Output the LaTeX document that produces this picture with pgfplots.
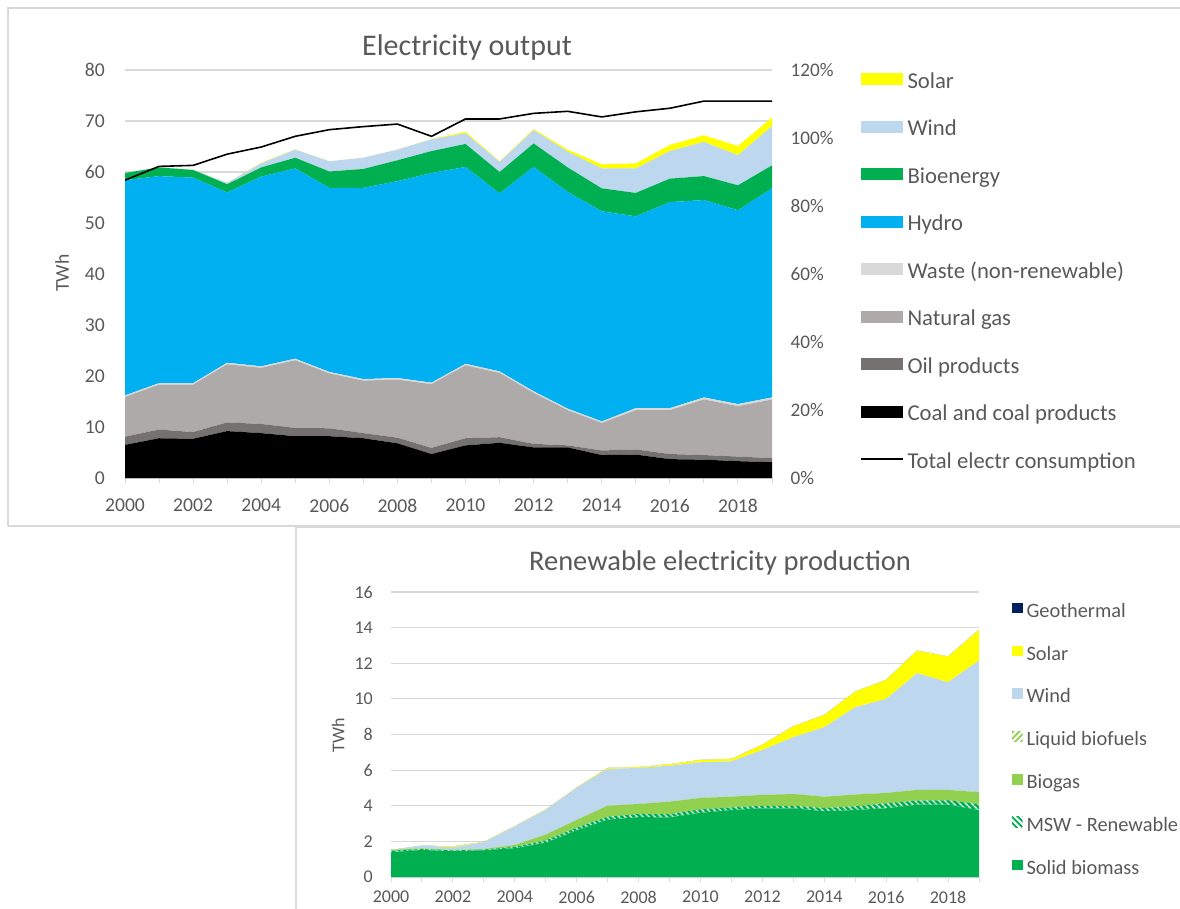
\documentclass[border=0pt]{standalone}
\usepackage{pgfplots}
\pgfplotsset{compat=1.18}
\usepackage{pgfplotstable}
\usepackage{fontspec}
\setmainfont{Carlito}
\usetikzlibrary{patterns.meta}
\definecolor{txt}{HTML}{595959}
\definecolor{gridc}{HTML}{D9D9D9}
\definecolor{solar}{HTML}{FFFF00}
\definecolor{wind}{HTML}{BDD7EE}
\definecolor{bio}{HTML}{00B050}
\definecolor{hydro}{HTML}{00B0F0}
\definecolor{waste}{HTML}{D9D9D9}
\definecolor{gas}{HTML}{AEAAAA}
\definecolor{oil}{HTML}{767171}
\definecolor{geo}{HTML}{002060}
\definecolor{biogas}{HTML}{92D050}

\pgfplotstableread{
year coal oil gas waste hydro bio wind solar total
2000 6.5 1.6 7.8 0.3 42.2 1.4 0.0 0.0 58.4
2001 7.8 1.7 8.8 0.3 40.6 1.7 0.0 0.0 61.1
2002 7.7 1.3 9.3 0.3 40.3 1.5 0.05 0.0 61.3
2003 9.2 1.7 11.4 0.3 33.4 1.6 0.3 0.0 63.5
2004 8.8 1.8 11.0 0.3 37.2 1.8 0.8 0.1 64.9
2005 8.2 1.6 13.3 0.3 37.3 2.1 1.6 0.05 67.0
2006 8.2 1.55 10.75 0.3 36.1 3.2 2.0 0.0 68.3
2007 7.8 1.0 10.3 0.3 37.5 3.7 2.2 0.0 68.9
2008 6.8 1.1 11.4 0.3 38.6 4.1 2.1 0.0 69.4
2009 4.7 1.2 12.5 0.3 41.1 4.3 2.3 0.05 67.0
2010 6.4 1.4 14.3 0.3 38.6 4.5 2.1 0.3 70.4
2011 6.9 1.1 12.6 0.3 34.9 4.2 2.0 0.1 70.4
2012 6.0 0.7 10.0 0.3 44.0 4.6 2.6 0.2 71.5
2013 6.0 0.4 6.9 0.3 42.5 4.8 3.1 0.4 71.9
2014 4.5 0.9 5.4 0.3 41.2 4.5 3.9 0.8 70.8
2015 4.6 1.0 7.7 0.4 37.6 4.6 4.8 1.0 71.8
2016 3.7 1.0 8.6 0.4 40.4 4.6 5.4 1.2 72.5
2017 3.6 0.9 10.9 0.4 38.7 4.7 6.7 1.3 73.9
2018 3.3 0.9 9.9 0.4 38.0 4.9 5.9 1.8 73.9
2019 3.1 0.8 11.5 0.4 41.0 4.5 7.7 1.7 73.9
}\elec

\pgfplotstableread{
year solid msw biogas liquid wind solar geo
2000 1.39 0.09 0.04 0 0.00 0.00 0
2001 1.52 0.05 0.04 0 0.15 0.00 0
2002 1.45 0.04 0.03 0 0.15 0.05 0
2003 1.50 0.04 0.03 0 0.38 0.02 0
2004 1.62 0.08 0.10 0 1.03 0.02 0
2005 1.92 0.14 0.32 0 1.38 0.02 0
2006 2.62 0.15 0.43 0 1.80 0.02 0
2007 3.22 0.17 0.61 0 2.07 0.05 0
2008 3.36 0.18 0.56 0 2.02 0.05 0
2009 3.35 0.18 0.70 0 2.02 0.08 0
2010 3.60 0.20 0.64 0 2.00 0.13 0
2011 3.76 0.15 0.60 0 1.99 0.13 0
2012 3.86 0.14 0.61 0 2.52 0.30 0
2013 3.86 0.14 0.66 0 3.19 0.61 0
2014 3.69 0.19 0.63 0 3.90 0.69 0
2015 3.76 0.21 0.66 0 4.90 0.88 0
2016 3.86 0.28 0.58 0 5.28 1.07 0
2017 4.06 0.23 0.60 0 6.55 1.27 0
2018 4.06 0.25 0.58 0 6.05 1.44 0
2019 3.76 0.34 0.66 0 7.39 1.73 0
}\renew

\pgfplotsset{
  base/.style={
    scale only axis, anchor=south west,
    xmin=2000, xmax=2019,
    axis x line*=bottom, axis y line*=left,
    axis line style={-},
    x axis line style={draw=gridc, line width=1.2pt},
    y axis line style={draw=none},
    xtick={2000,2002,...,2018},
    minor xtick={2001,2003,...,2019},
    xtick align=outside,
    major tick length=5pt, minor tick length=5pt,
    every tick/.style={draw=gridc, line width=1pt},
    ytick style={draw=none},
    ymajorgrids, grid style={draw=gridc, line width=1.2pt},
    /pgf/number format/assume math mode=true,
    /pgf/number format/1000 sep={},
    tick label style={text=txt},
    xticklabel style={anchor=north, inner sep=0pt},
    yticklabel style={anchor=east, inner sep=0pt},
    legend cell align=left,
  },
}

\begin{document}
\begin{tikzpicture}[x=1pt,y=1pt]
\useasboundingbox (0,0) rectangle (1180,-908);
\draw[gridc, line width=1.5pt] (8,-526) -- (8,-8) -- (1181,-8);
\draw[gridc, line width=1.5pt] (8,-526) -- (1181,-526);
\draw[gridc, line width=1.5pt] (296,-909) -- (296,-527) -- (1181,-527);

% ---------- Top chart ----------
\begin{axis}[base,
  at={(125pt,-478pt)}, width=647pt, height=408pt,
  ymin=0, ymax=80, ytick={0,10,...,80},
  stack plots=y,
  tick label style={font=\fontsize{19.6}{22}\selectfont},
  xticklabel style={yshift=-16pt},
  yticklabel style={xshift=-20pt},
  legend style={draw=none, fill=none, inner sep=0pt, outer sep=0pt,
    at={(axis description cs:1.136,0.9926)}, anchor=north west,
    font=\fontsize{22.7}{26}\selectfont, text=txt,
    nodes={inner sep=0pt, text height=15pt, text depth=5pt},
    row sep=27.5pt, column sep=4pt},
  legend image code/.code={\fill[#1] (0pt,-2pt) rectangle (42pt,10pt);},
]
\addplot[fill=black, draw=none, forget plot] table[x=year,y=coal]{\elec} \closedcycle;
\addplot[fill=oil, draw=none, forget plot] table[x=year,y=oil]{\elec} \closedcycle;
\addplot[fill=gas, draw=none, forget plot] table[x=year,y=gas]{\elec} \closedcycle;
\addplot[fill=waste, draw=none, forget plot] table[x=year,y=waste]{\elec} \closedcycle;
\addplot[fill=hydro, draw=none, forget plot] table[x=year,y=hydro]{\elec} \closedcycle;
\addplot[fill=bio, draw=none, forget plot] table[x=year,y=bio]{\elec} \closedcycle;
\addplot[fill=wind, draw=none, forget plot] table[x=year,y=wind]{\elec} \closedcycle;
\addplot[fill=solar, draw=none, forget plot] table[x=year,y=solar]{\elec} \closedcycle;
\addlegendimage{fill=solar,draw=none}\addlegendentry{Solar}
\addlegendimage{fill=wind,draw=none}\addlegendentry{Wind}
\addlegendimage{fill=bio,draw=none}\addlegendentry{Bioenergy}
\addlegendimage{fill=hydro,draw=none}\addlegendentry{Hydro}
\addlegendimage{fill=waste,draw=none}\addlegendentry{Waste (non-renewable)}
\addlegendimage{fill=gas,draw=none}\addlegendentry{Natural gas}
\addlegendimage{fill=oil,draw=none}\addlegendentry{Oil products}
\addlegendimage{fill=black,draw=none}\addlegendentry{Coal and coal products}
\addlegendimage{legend image code/.code={\draw[black,line width=1.5pt] (0pt,4pt) -- (42pt,4pt);}}\addlegendentry{Total electr consumption}
\end{axis}

\begin{axis}[scale only axis, anchor=south west,
  at={(125pt,-478pt)}, width=647pt, height=408pt,
  xmin=2000, xmax=2019, ymin=0, ymax=120, ytick={0,20,...,120},
  axis x line=none, axis y line*=right, axis line style={-},
  y axis line style={draw=none}, ytick style={draw=none},
  /pgf/number format/assume math mode=true,
  yticklabel={\pgfmathprintnumber{\tick}\%},
  tick label style={text=txt, font=\fontsize{19.2}{22}\selectfont},
  yticklabel style={anchor=west, inner sep=0pt, xshift=18.5pt},
]
\addplot[black, line width=1.6pt] table[x=year, y expr=\thisrow{total}*1.5]{\elec};
\end{axis}

\node[font=\fontsize{30}{35}\selectfont, text=txt] at (467,-47) {Electricity output};
\node[font=\fontsize{19.6}{22}\selectfont, text=txt, rotate=90] at (62,-273) {TWh};

% ---------- Bottom chart ----------
\begin{axis}[base,
  at={(391pt,-877pt)}, width=588pt, height=285pt,
  ymin=0, ymax=16, ytick={0,2,...,16},
  stack plots=y,
  tick label style={font=\fontsize{18}{21}\selectfont},
  xticklabel style={yshift=-9pt},
  yticklabel style={xshift=-18pt},
  legend style={draw=none, fill=none, inner sep=0pt, outer sep=0pt,
    at={(axis description cs:1.0561,0.962)}, anchor=north west,
    font=\fontsize{20.4}{24}\selectfont, text=txt,
    nodes={inner sep=0pt, text height=14pt, text depth=5pt},
    row sep=23.3pt, column sep=4pt},
  legend image code/.code={\fill[#1] (0pt,-0.5pt) rectangle (10.5pt,10pt);},
]
\addplot[fill=bio, draw=none, forget plot] table[x=year,y=solid]{\renew} \closedcycle;
\addplot[fill=bio, draw=none, forget plot, postaction={pattern={Lines[angle=-45,distance=4pt,line width=1.6pt]}, pattern color=white}] table[x=year,y=msw]{\renew} \closedcycle;
\addplot[fill=biogas, draw=none, forget plot] table[x=year,y=biogas]{\renew} \closedcycle;
\addplot[fill=biogas, draw=none, forget plot, postaction={pattern={Lines[angle=45,distance=4pt,line width=1.6pt]}, pattern color=white}] table[x=year,y=liquid]{\renew} \closedcycle;
\addplot[fill=wind, draw=none, forget plot] table[x=year,y=wind]{\renew} \closedcycle;
\addplot[fill=solar, draw=none, forget plot] table[x=year,y=solar]{\renew} \closedcycle;
\addplot[fill=geo, draw=none, forget plot] table[x=year,y=geo]{\renew} \closedcycle;
\addlegendimage{fill=geo,draw=none}\addlegendentry{Geothermal}
\addlegendimage{fill=solar,draw=none}\addlegendentry{Solar}
\addlegendimage{fill=wind,draw=none}\addlegendentry{Wind}
\addlegendimage{legend image code/.code={\begin{scope}\clip (0pt,-0.5pt) rectangle (10.5pt,10pt); \fill[draw=none, pattern={Lines[angle=45,distance=4pt,line width=2pt]}, pattern color=biogas] (-2pt,-2pt) rectangle (12pt,12pt);\end{scope}}, draw=none}\addlegendentry{Liquid biofuels}
\addlegendimage{fill=biogas,draw=none}\addlegendentry{Biogas}
\addlegendimage{legend image code/.code={\begin{scope}\clip (0pt,-0.5pt) rectangle (10.5pt,10pt); \fill[draw=none, pattern={Lines[angle=-45,distance=4pt,line width=2pt]}, pattern color=bio] (-2pt,-2pt) rectangle (12pt,12pt);\end{scope}}, draw=none}\addlegendentry{MSW - Renewable}
\addlegendimage{fill=bio,draw=none}\addlegendentry{Solid biomass}
\end{axis}

\node[font=\fontsize{28.5}{33}\selectfont, text=txt] at (720,-563) {Renewable electricity production};
\node[font=\fontsize{18}{21}\selectfont, text=txt, rotate=90] at (338,-735) {TWh};
\end{tikzpicture}
\end{document}
